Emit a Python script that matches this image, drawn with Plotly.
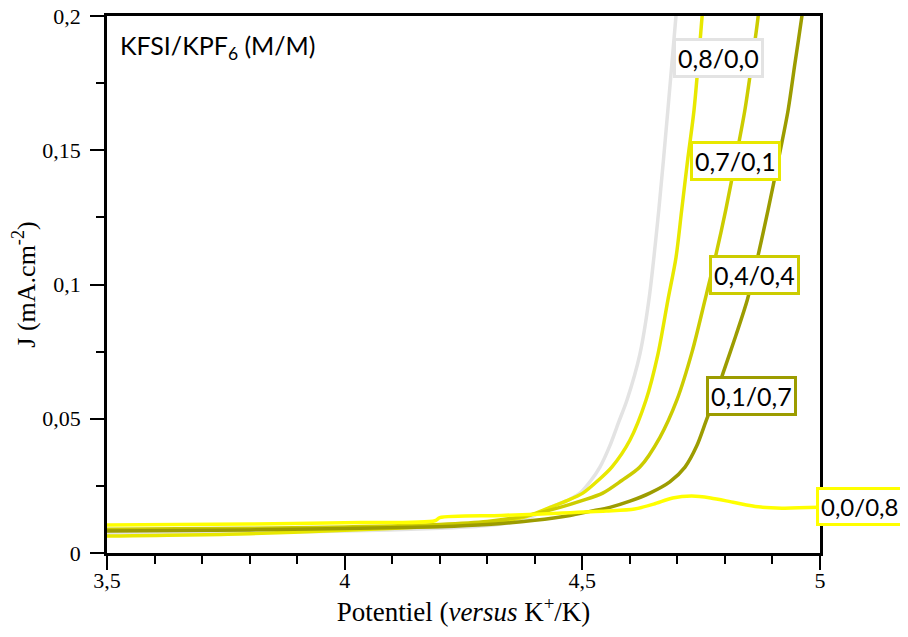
import plotly.graph_objects as go

# Potential (V vs K+/K) and current density (mA.cm-2) for each KFSI/KPF6 mixture
v_08_00 = [3.5, 3.8, 4.0, 4.2, 4.3, 4.38, 4.432, 4.468, 4.495, 4.518, 4.537, 4.558, 4.577, 4.594, 4.621, 4.640, 4.661, 4.680, 4.697, 4.708]
j_08_00 = [0.0072, 0.0076, 0.0082, 0.0092, 0.0102, 0.0125, 0.017, 0.0195, 0.0223, 0.027, 0.032, 0.040, 0.049, 0.057, 0.074, 0.0942, 0.128, 0.165, 0.2, 0.222]

v_07_01 = [3.5, 3.8, 4.0, 4.2, 4.3, 4.38, 4.432, 4.468, 4.501, 4.533, 4.562, 4.600, 4.634, 4.659, 4.680, 4.697, 4.709, 4.722, 4.735, 4.752, 4.762]
j_07_01 = [0.0063, 0.0072, 0.0085, 0.0100, 0.0112, 0.0135, 0.017, 0.0195, 0.0223, 0.027, 0.032, 0.042, 0.057, 0.074, 0.0942, 0.110, 0.1277, 0.147, 0.165, 0.2, 0.222]

v_04_04 = [3.5, 3.8, 4.0, 4.2, 4.3, 4.38, 4.453, 4.499, 4.543, 4.583, 4.621, 4.663, 4.699, 4.731, 4.758, 4.781, 4.802, 4.823, 4.842, 4.857, 4.870, 4.880]
j_04_04 = [0.0088, 0.0092, 0.0097, 0.0106, 0.0117, 0.0138, 0.017, 0.0195, 0.0223, 0.027, 0.032, 0.043, 0.057, 0.075, 0.0942, 0.111, 0.128, 0.147, 0.165, 0.183, 0.2, 0.218]

v_01_07 = [3.5, 3.8, 4.0, 4.2, 4.3, 4.4, 4.474, 4.516, 4.558, 4.600, 4.642, 4.684, 4.716, 4.741, 4.760, 4.779, 4.798, 4.823, 4.847, 4.870, 4.891, 4.912, 4.933, 4.947, 4.962, 4.975]
j_01_07 = [0.0082, 0.0086, 0.0091, 0.0098, 0.0106, 0.0122, 0.014, 0.0155, 0.017, 0.0193, 0.0223, 0.0265, 0.032, 0.040, 0.049, 0.058, 0.068, 0.081, 0.0942, 0.111, 0.128, 0.146, 0.165, 0.182, 0.2, 0.218]

v_00_08 = [3.5, 3.8, 4.0, 4.19, 4.2, 4.33, 4.45, 4.55, 4.61, 4.65, 4.69, 4.73, 4.77, 4.82, 4.87, 4.92, 5.0]
j_00_08 = [0.0104, 0.0108, 0.0113, 0.0120, 0.0132, 0.0140, 0.0148, 0.0156, 0.0164, 0.0182, 0.0205, 0.0212, 0.0205, 0.0188, 0.0172, 0.0167, 0.0170]

series = [
    ("0,8/0,0", v_08_00, j_08_00, "#e3e3e3"),
    ("0,7/0,1", v_07_01, j_07_01, "#e8e800"),
    ("0,4/0,4", v_04_04, j_04_04, "#cccc00"),
    ("0,1/0,7", v_01_07, j_01_07, "#9c9c00"),
    ("0,0/0,8", v_00_08, j_00_08, "#ffff00"),
]
# label anchor positions: (xref, x, xanchor, y in data units, font size)
label_pos = [
    ("x", 4.786, "center", 0.1844, 25),
    ("x", 4.822, "center", 0.146, 25),
    ("x", 4.862, "center", 0.1035, 25),
    ("x", 4.855, "center", 0.0585, 25),
    ("paper", 0.994, "left", 0.0175, 24),
]

fig = go.Figure()
for name, v, j, col in series:
    fig.add_trace(go.Scatter(x=v, y=j, mode="lines", name=name,
                             line=dict(color=col, width=3.5, shape="spline", smoothing=0.8),
                             showlegend=False))

for (name, v, j, col), (xr, lx, xa, ly, fs) in zip(series, label_pos):
    fig.add_annotation(x=lx, y=ly, xref=xr, yref="y", xanchor=xa, text=name, showarrow=False,
                       font=dict(family="Lato", size=fs, color="black"),
                       bgcolor="white", bordercolor=col, borderwidth=3, borderpad=2)

fig.add_annotation(x=(118 - 107) / 713, y=1 - (47 - 16) / 537, xref="paper", yref="paper",
                   xanchor="left", yanchor="middle", showarrow=False,
                   text="KFSI/KPF<sub>6</sub> (M/M)",
                   font=dict(family="Lato", size=25, color="black"))

fig.update_layout(
    width=900, height=629,
    margin=dict(l=99, r=88, t=8, b=84),
    paper_bgcolor="white", plot_bgcolor="white",
    separators=", ",
    font=dict(family="Liberation Serif", size=22, color="black"),
)
fig.update_xaxes(
    range=[3.5, 5], tickvals=[3.5, 4, 4.5, 5], showgrid=False, zeroline=False,
    showline=True, linecolor="black", linewidth=2.5, mirror=True, automargin=False,
    ticks="outside", ticklen=14, tickwidth=2, tickcolor="black", ticklabelstandoff=-8,
    ticklabeloverflow="allow",
    minor=dict(dtick=0.1, ticks="outside", ticklen=8, tickwidth=2, tickcolor="black"),
    title=dict(text="Potentiel (<i>versus</i> K<sup>+</sup>/K)", font=dict(size=27), standoff=4),
    tickfont=dict(size=22),
)
fig.update_yaxes(
    range=[0, 0.2], tickvals=[0, 0.05, 0.1, 0.15, 0.2], showgrid=False, zeroline=False,
    showline=True, linecolor="black", linewidth=2.5, mirror=True, automargin=False,
    ticks="outside", ticklen=14, tickwidth=2, tickcolor="black", ticklabelstandoff=5,
    ticklabeloverflow="allow",
    minor=dict(dtick=0.025, ticks="outside", ticklen=8, tickwidth=2, tickcolor="black"),
    title=dict(text="J (mA.cm<sup>-2</sup>)", font=dict(size=26), standoff=10),
    tickfont=dict(size=22),
)

fig.write_html("out.html")
